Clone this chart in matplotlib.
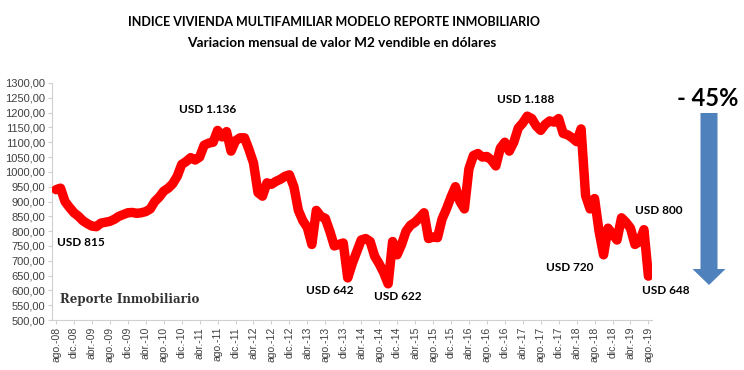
import numpy as np
import matplotlib
matplotlib.use("Agg")
import matplotlib.pyplot as plt
from matplotlib.patches import FancyArrow

# monthly index values, ago-08 .. ago-19 (USD per m2)
valores = [
    940, 945, 900, 880, 862, 850, 835, 825, 817, 815, 827, 830,
    833, 840, 850, 856, 862, 863, 860, 862, 866, 875, 900, 915,
    935, 945, 960, 985, 1025, 1035, 1048, 1040, 1050, 1090, 1097, 1100,
    1140, 1118, 1136, 1070, 1105, 1115, 1115, 1075, 1030, 930, 918, 963,
    958, 968, 975, 985, 990, 950, 870, 835, 812, 755, 870, 850,
    843, 800, 750, 755, 760, 642, 690, 730, 770, 775, 765, 715,
    690, 660, 622, 765, 720, 755, 800, 820, 830, 845, 862, 775,
    780, 778, 840, 875, 915, 950, 900, 875, 1010, 1055, 1062, 1050,
    1052, 1040, 1020, 1080, 1100, 1070, 1100, 1148, 1165, 1188, 1180, 1155,
    1140, 1160, 1172, 1168, 1180, 1130, 1125, 1115, 1102, 1145, 920, 875,
    910, 800, 720, 810, 790, 770, 845, 830, 810, 755, 765, 805,
    648,
]

meses = ["ago.", "dic.", "abr."]
etiquetas_x = []
for k in range(0, 133, 4):
    mes = meses[(k // 4) % 3]
    anio = 8 + (k + 7) // 12
    etiquetas_x.append("%s-%02d" % (mes, anio))

y_ticks = list(range(500, 1301, 50))

# annotations: (text, month index, value)
anotaciones = [
    ("USD 815", 9, 815),
    ("USD 1.136", 38, 1136),
    ("USD 642", 65, 642),
    ("USD 622", 74, 622),
    ("USD 1.188", 105, 1188),
    ("USD 720", 122, 720),
    ("USD 800", 131, 805),
    ("USD 648", 132, 648),
]

fig = plt.figure(figsize=(7.44, 3.70), dpi=100)
ax = fig.add_axes([52 / 744, 1 - 320 / 370, 600 / 744, 237 / 370])

x = np.arange(len(valores))
ax.plot(x, valores, color="#FF0000", linewidth=6.8,
        solid_joinstyle="round", solid_capstyle="round", zorder=3)

ax.set_xlim(-0.9, 132.8)
ax.set_ylim(500, 1300)
ax.set_yticks(y_ticks)
ax.set_yticklabels(["%d,00" % v for v in y_ticks], fontsize=8,
                   family="Liberation Sans")
ax.set_xticks(np.arange(0, 133, 4))
ax.set_xticklabels(etiquetas_x, rotation=90, fontsize=7.5,
                   family="Liberation Sans")

for s in ["top", "right"]:
    ax.spines[s].set_visible(False)
for s in ["left", "bottom"]:
    ax.spines[s].set_color("#D0D0D0")
    ax.spines[s].set_linewidth(0.8)
ax.tick_params(axis="both", colors="#D0D0D0", length=3, width=0.8, pad=2)
for lab in ax.get_xticklabels() + ax.get_yticklabels():
    lab.set_color("#404040")

# label offsets in pixels from the data point
offsets = {
    "USD 815": (-16, -16),
    "USD 1.136": (-19, 22),
    "USD 642": (-18, -13),
    "USD 622": (10, -13),
    "USD 1.188": (-2, 17),
    "USD 720": (-34, -13),
    "USD 800": (15, 19),
    "USD 648": (17, -14),
}
for txt, i, v in anotaciones:
    dx, dy = offsets[txt]
    ax.annotate(txt, (i, v), xytext=(dx, dy), textcoords="offset pixels",
                ha="center", va="center", fontsize=8.5, fontweight="bold",
                family="Lato", color="black", annotation_clip=False)

fig.text(334 / 744, 1 - 22 / 370,
         "INDICE VIVIENDA MULTIFAMILIAR MODELO REPORTE INMOBILIARIO",
         ha="center", va="center", fontsize=9, fontweight="bold", family="Lato")
fig.text(342 / 744, 1 - 43 / 370,
         "Variacion mensual de valor M2 vendible en dólares",
         ha="center", va="center", fontsize=9.8, fontweight="bold", family="Lato")

fig.text(130 / 744, 1 - 300 / 370, "Reporte Inmobiliario",
         ha="center", va="center", fontsize=8.5, fontweight="bold",
         family="DejaVu Serif", color="#333333")

fig.text(708 / 744, 1 - 99 / 370, "- 45%", ha="center", va="center",
         fontsize=17, fontweight="bold", family="Lato")

arrow = FancyArrow(709 / 744, 1 - 113 / 370, 0, -(172 / 370),
                   width=17 / 744, head_width=33 / 744, head_length=16 / 370,
                   length_includes_head=True, transform=fig.transFigure,
                   color="#4F81BD", linewidth=0)
fig.patches.append(arrow)

fig.savefig("out.png", dpi=100)
